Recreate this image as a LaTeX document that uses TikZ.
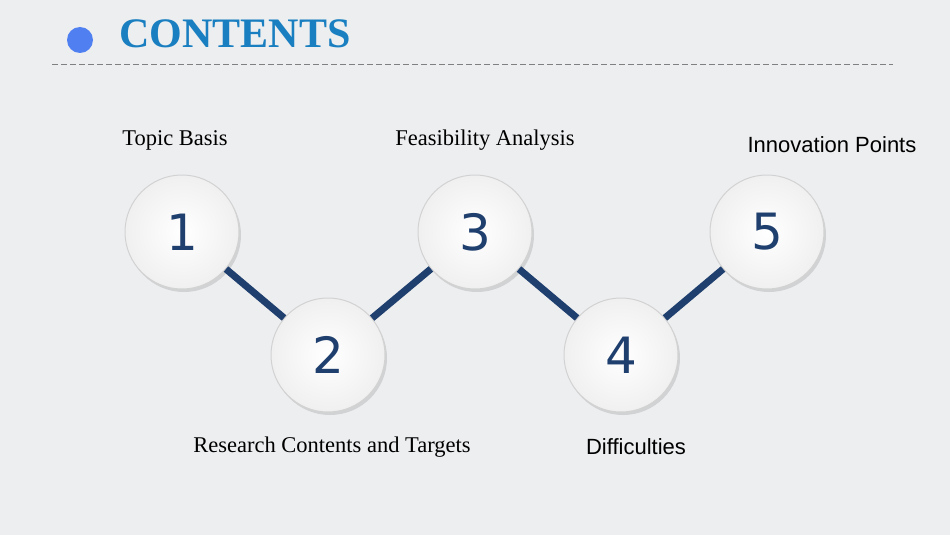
\documentclass[tikz,border=0pt]{standalone}
\usepackage{fontspec}
\setmainfont{Liberation Serif}
\newfontfamily\numfont{DejaVu Sans}
\newfontfamily\labfont{Liberation Sans}
\usetikzlibrary{positioning, shadows}
\definecolor{navy}{HTML}{1F3F6E}
\definecolor{titleblue}{HTML}{1A7FC0}
\definecolor{dotblue}{HTML}{4F7FF0}
\definecolor{bggray}{HTML}{EDEEF0}
\tikzset{
    stage/.style = {circle, minimum size=114pt, inner sep=0pt,
        draw=gray!35, line width=1pt,
        inner color=white, outer color=gray!12,
        drop shadow={shadow xshift=2pt, shadow yshift=-3pt, opacity=0.25},
        font=\numfont\fontsize{50}{50}\selectfont, text=navy},
    link/.style = {draw=navy, line width=7pt},
    serif label/.style = {font=\fontsize{22.5}{22.5}\selectfont, text=black},
    sans label/.style = {font=\labfont\fontsize{22}{22}\selectfont, text=black}}
\begin{document}
\begin{tikzpicture}[x=1pt, y=-1pt]
    \fill [bggray] (0,0) rectangle (950,535);
    \useasboundingbox (0,0) rectangle (950,535);
    % title
    \node (dot) [circle, fill=dotblue, minimum size=26pt, inner sep=0pt] at (80,40) {};
    \node (title) [anchor=west, text=titleblue,
        font=\bfseries\fontsize{42}{42}\selectfont] at (116,34) {CONTENTS};
    \draw [gray, dash pattern=on 6pt off 3pt, line width=0.8pt] (52,64) -- (893,64);
    % stages
    \node (s1) [stage] at (182,232) {1};
    \node (s2) [stage] at (328,355) {2};
    \node (s3) [stage] at (475,232) {3};
    \node (s4) [stage] at (621,355) {4};
    \node (s5) [stage] at (767,232) {5};
    \path [link]
        (s1) -- (s2)
        (s2) -- (s3)
        (s3) -- (s4)
        (s4) -- (s5);
    % labels
    \node (l1) [serif label] at (175,140) {Topic Basis};
    \node (l3) [serif label] at (485,140) {Feasibility Analysis};
    \node (l5) [sans label] at (832,145) {Innovation Points};
    \node (l2) [serif label] at (332,447) {Research Contents and Targets};
    \node (l4) [sans label] at (636,447) {Difficulties};
\end{tikzpicture}
\end{document}
